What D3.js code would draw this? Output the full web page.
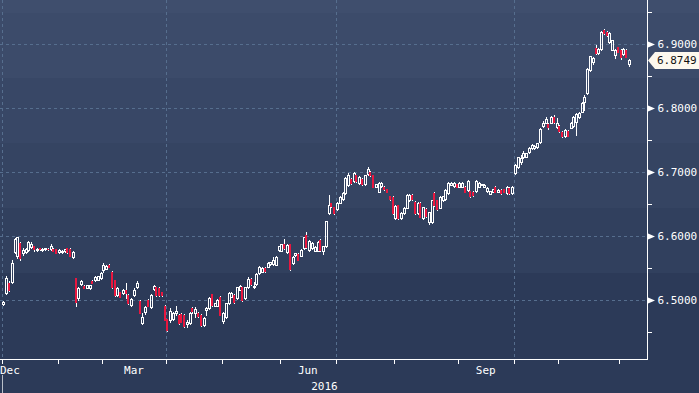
<!DOCTYPE html>
<html><head><meta charset="utf-8">
<script src="https://cdn.jsdelivr.net/npm/d3@7"></script>
<style>
html,body{margin:0;padding:0;background:#2d3b59;overflow:hidden}
svg{display:block}
text{font-family:"DejaVu Sans Mono",monospace;font-size:11px}
</style>
</head><body>
<svg id="chart" width="699" height="393"></svg>
<script>
// ---------------- data ----------------
const firstDay = "2016-01-01";
const lastDay = "2016-12-06";
const holidays = ["2016-01-01","2016-02-08","2016-02-09","2016-02-10","2016-02-11","2016-02-12",
  "2016-04-04","2016-05-02","2016-06-09","2016-06-10","2016-09-15","2016-09-16",
  "2016-10-03","2016-10-04","2016-10-05","2016-10-06","2016-10-07"];

const opens = [
6.494,6.511,6.527,6.528,6.575,6.569,6.589,6.574,6.575,6.578,6.583,6.584,6.578,6.581,6.578,6.579,6.580,6.579,6.580,6.579,
6.575,6.575,6.576,6.581,6.580,6.567,6.534,6.503,6.525,6.522,6.519,6.518,6.530,6.531,6.532,6.534,
6.547,6.549,6.555,6.544,6.531,6.508,6.512,6.511,6.516,6.508,6.492,6.508,6.520,6.499,6.464,6.481,6.500,6.489,6.517,6.520,6.519,6.512,6.491,
6.470,6.469,6.470,6.480,6.477,6.478,6.477,6.462,6.464,6.488,6.480,6.480,6.477,6.461,6.484,6.487,6.509,6.491,6.491,6.505,
6.467,6.473,6.495,6.505,6.508,6.503,6.516,6.520,6.503,6.520,6.533,6.521,6.525,6.542,6.544,6.550,6.552,6.556,6.556,6.555,6.578,
6.577,6.587,6.575,6.587,6.558,6.570,6.572,6.569,6.581,6.601,6.578,6.581,6.577,6.577,6.594,6.577,6.584,6.636,6.651,6.645,
6.642,6.652,6.658,6.667,6.680,6.689,6.686,6.695,6.683,6.689,6.681,6.697,6.700,6.695,6.677,6.669,6.678,6.677,6.673,6.662,6.661,
6.628,6.648,6.628,6.636,6.644,6.656,6.664,6.653,6.636,6.652,6.628,6.642,6.622,6.622,6.667,6.656,6.644,6.656,6.658,6.667,6.680,6.678,6.681,
6.677,6.677,6.677,6.672,6.670,6.669,6.670,6.677,6.680,6.677,6.670,6.666,6.669,6.677,6.669,6.672,6.673,6.667,6.675,6.667,
6.698,6.708,6.716,6.723,6.724,6.731,6.737,6.737,6.739,6.747,6.772,6.777,6.775,6.777,6.786,6.770,
6.772,6.763,6.756,6.764,6.769,6.772,6.778,6.786,6.794,6.809,6.823,6.859,6.872,6.894,6.886,6.892,6.922,6.919,6.903,6.891,6.883,6.895,
6.891,6.884,6.891,6.868];

const highs = [
6.498,6.538,6.529,6.563,6.597,6.599,6.591,6.581,6.581,6.592,6.590,6.585,6.581,6.582,6.581,6.582,6.581,6.587,6.581,6.580,
6.579,6.578,6.580,6.582,6.581,6.576,6.535,6.520,6.531,6.523,6.524,6.524,6.531,6.537,6.538,6.543,
6.558,6.554,6.556,6.545,6.532,6.520,6.513,6.517,6.527,6.509,6.503,6.518,6.529,6.500,6.480,6.490,6.501,6.509,6.523,6.521,6.520,6.513,6.492,
6.471,6.488,6.482,6.491,6.478,6.479,6.478,6.469,6.481,6.489,6.489,6.481,6.478,6.473,6.489,6.504,6.510,6.496,6.501,6.506,
6.481,6.496,6.512,6.512,6.509,6.521,6.523,6.521,6.521,6.536,6.534,6.528,6.542,6.553,6.551,6.551,6.559,6.560,6.567,6.568,6.585,
6.588,6.595,6.587,6.588,6.568,6.574,6.573,6.579,6.599,6.606,6.593,6.590,6.584,6.592,6.595,6.585,6.624,6.664,6.652,6.646,
6.653,6.662,6.668,6.692,6.698,6.690,6.700,6.696,6.693,6.690,6.696,6.708,6.701,6.696,6.682,6.684,6.684,6.678,6.674,6.663,6.662,
6.648,6.649,6.637,6.645,6.665,6.665,6.665,6.654,6.653,6.653,6.646,6.643,6.638,6.657,6.668,6.657,6.662,6.663,6.673,6.684,6.684,6.684,6.682,
6.684,6.684,6.678,6.687,6.671,6.670,6.687,6.684,6.682,6.681,6.676,6.671,6.674,6.678,6.673,6.673,6.674,6.678,6.676,6.678,
6.713,6.724,6.726,6.733,6.730,6.739,6.743,6.742,6.746,6.768,6.780,6.786,6.776,6.787,6.789,6.784,
6.773,6.764,6.767,6.765,6.778,6.787,6.792,6.793,6.809,6.820,6.862,6.882,6.880,6.898,6.893,6.920,6.923,6.920,6.918,6.907,6.892,6.896,
6.892,6.893,6.892,6.877];

const lows = [
6.492,6.509,6.514,6.527,6.573,6.566,6.562,6.571,6.574,6.577,6.582,6.577,6.577,6.578,6.577,6.578,6.578,6.578,6.576,6.573,
6.574,6.574,6.575,6.574,6.568,6.566,6.491,6.500,6.523,6.518,6.518,6.517,6.526,6.530,6.531,6.533,
6.544,6.548,6.551,6.519,6.507,6.507,6.504,6.510,6.503,6.494,6.491,6.506,6.518,6.479,6.462,6.478,6.490,6.488,6.516,6.507,6.507,6.507,6.468,
6.452,6.466,6.469,6.477,6.463,6.465,6.458,6.458,6.463,6.480,6.474,6.474,6.460,6.460,6.477,6.486,6.491,6.490,6.490,6.476,
6.464,6.472,6.494,6.504,6.496,6.502,6.515,6.499,6.502,6.519,6.524,6.519,6.524,6.541,6.543,6.544,6.551,6.555,6.555,6.554,6.577,
6.576,6.580,6.574,6.547,6.557,6.569,6.562,6.568,6.580,6.582,6.577,6.580,6.576,6.576,6.577,6.572,6.583,6.635,6.645,6.634,
6.641,6.651,6.657,6.666,6.678,6.682,6.685,6.685,6.682,6.680,6.680,6.696,6.694,6.676,6.676,6.668,6.677,6.672,6.668,6.657,6.635,
6.627,6.627,6.627,6.635,6.643,6.655,6.657,6.635,6.635,6.629,6.627,6.630,6.619,6.621,6.647,6.641,6.643,6.655,6.657,6.666,6.679,6.677,6.676,
6.676,6.676,6.668,6.671,6.661,6.663,6.669,6.676,6.679,6.676,6.669,6.665,6.668,6.668,6.668,6.666,6.668,6.666,6.666,6.666,
6.697,6.707,6.713,6.722,6.723,6.730,6.736,6.736,6.738,6.746,6.770,6.776,6.767,6.776,6.777,6.769,
6.763,6.755,6.755,6.756,6.768,6.771,6.758,6.785,6.793,6.797,6.822,6.858,6.869,6.884,6.885,6.891,6.916,6.913,6.902,6.890,6.878,6.887,
6.876,6.883,6.879,6.865];

const closes = [
6.497,6.534,6.516,6.558,6.595,6.598,6.566,6.578,6.579,6.590,6.587,6.579,6.580,6.579,6.580,6.581,6.579,6.585,6.577,6.574,
6.578,6.577,6.579,6.575,6.569,6.575,6.497,6.519,6.530,6.519,6.523,6.523,6.527,6.536,6.537,6.542,
6.555,6.553,6.552,6.520,6.508,6.519,6.505,6.516,6.511,6.495,6.502,6.516,6.527,6.480,6.473,6.489,6.491,6.508,6.522,6.508,6.508,6.508,6.469,
6.453,6.483,6.480,6.483,6.464,6.466,6.460,6.465,6.480,6.483,6.486,6.475,6.461,6.472,6.487,6.503,6.492,6.495,6.500,6.477,
6.480,6.495,6.511,6.511,6.497,6.520,6.522,6.500,6.520,6.533,6.525,6.522,6.541,6.552,6.550,6.545,6.558,6.559,6.562,6.567,6.584,
6.587,6.581,6.586,6.548,6.567,6.573,6.563,6.578,6.598,6.583,6.592,6.589,6.583,6.591,6.578,6.584,6.623,6.648,6.647,6.636,
6.652,6.661,6.667,6.691,6.695,6.683,6.698,6.686,6.692,6.681,6.695,6.705,6.695,6.677,6.681,6.683,6.683,6.673,6.669,6.658,6.636,
6.647,6.628,6.636,6.644,6.664,6.664,6.658,6.636,6.652,6.630,6.645,6.631,6.637,6.656,6.648,6.642,6.661,6.662,6.672,6.683,6.683,6.683,6.677,
6.683,6.683,6.669,6.686,6.662,6.664,6.686,6.683,6.681,6.680,6.675,6.670,6.673,6.669,6.672,6.667,6.669,6.677,6.667,6.677,
6.711,6.723,6.722,6.730,6.729,6.738,6.742,6.741,6.745,6.767,6.777,6.783,6.770,6.786,6.778,6.777,
6.764,6.756,6.766,6.757,6.777,6.786,6.791,6.792,6.808,6.817,6.861,6.881,6.878,6.886,6.892,6.919,6.917,6.914,6.917,6.906,6.891,6.888,
6.880,6.892,6.880,6.8749];

const yTicks = [6.5, 6.6, 6.7, 6.8, 6.9];
const yMinorTicks = [6.45, 6.55, 6.65, 6.75, 6.85, 6.95];
const monthLabels = ["Dec", "Mar", "Jun", "Sep"];
const labelMonths = ["2015-12", "2016-03", "2016-06", "2016-09"];
const gridMonths = ["2016-01", "2016-04", "2016-07", "2016-10"];
const yearLabel = "2016";

// ---------------- layout ----------------
const W = 699, H = 393;
const plotRight = 647, plotBottom = 359;
const slots = 232;
const bandColors = ["#3f4e6d","#3c4b6a","#384766","#354462","#31405e","#2c3a58"];
const bandEdges = [0, 13, 78, 143, 208, 273, H];
const upColor = "#ffffff", downColor = "#e8173f";
const gridColor = "#566e8e";

const parse = d3.utcParse("%Y-%m-%d");
const fmtDay = d3.utcFormat("%Y-%m-%d");
const fmtMonth = d3.utcFormat("%Y-%m");
const dates = d3.utcDays(parse(firstDay), d3.utcDay.offset(parse(lastDay), 1))
  .filter(d => d.getUTCDay() % 6 !== 0 && !holidays.includes(fmtDay(d)));

const candles = dates.map((d, i) => ({i, date: d, o: opens[i], h: highs[i], l: lows[i], c: closes[i]}));

const x = d3.scaleLinear().domain([0, slots]).range([2, plotRight]);
const y = d3.scaleLinear().domain([6.40781, 6.96875]).range([plotBottom, 0]);

const monthStart = new Map();
dates.forEach((d, i) => { const k = fmtMonth(d); if (!monthStart.has(k)) monthStart.set(k, i); });
const monthKeys = Array.from(monthStart.keys());
const monthEnd = new Map();
monthKeys.forEach((k, j) => monthEnd.set(k, j + 1 < monthKeys.length ? monthStart.get(monthKeys[j + 1]) : dates.length));

const svg = d3.select("#chart");

// background bands
svg.append("g").selectAll("rect").data(bandColors).join("rect")
  .attr("x", 0).attr("width", W)
  .attr("y", (c, k) => bandEdges[k]).attr("height", (c, k) => bandEdges[k + 1] - bandEdges[k])
  .attr("fill", c => c);

// grid
const grid = svg.append("g").attr("stroke", gridColor).attr("stroke-dasharray", "3,3").attr("shape-rendering", "crispEdges");
grid.selectAll("line.h").data(yTicks).join("line").attr("class", "h")
  .attr("x1", 0).attr("x2", plotRight)
  .attr("y1", d => Math.round(y(d)) + 0.5).attr("y2", d => Math.round(y(d)) + 0.5);
grid.selectAll("line.v").data(gridMonths).join("line").attr("class", "v")
  .attr("x1", m => Math.round(x(monthStart.get(m))) + 0.5).attr("x2", m => Math.round(x(monthStart.get(m))) + 0.5)
  .attr("y1", 0).attr("y2", plotBottom);

// candles
const cg = svg.append("g").attr("shape-rendering", "crispEdges");
const cs = cg.selectAll("g").data(candles).join("g");
cs.each(function(d) {
  const g = d3.select(this);
  const cx = Math.round(x(d.i + 0.5));
  const yt = Math.round(y(Math.max(d.o, d.c)));
  const yb = Math.round(y(Math.min(d.o, d.c)));
  const yh = Math.round(y(d.h));
  const yl = Math.round(y(d.l));
  if (d.c >= d.o) {
    if (yt > yh) g.append("rect").attr("x", cx).attr("y", yh).attr("width", 1).attr("height", yt - yh).attr("fill", upColor);
    if (yl > yb) g.append("rect").attr("x", cx).attr("y", yb + 1).attr("width", 1).attr("height", yl - yb).attr("fill", upColor);
    g.append("rect").attr("x", cx - 0.5).attr("y", yt + 0.5).attr("width", 2).attr("height", Math.max(1, yb - yt))
      .attr("fill", "none").attr("stroke", upColor).attr("stroke-width", 1);
  } else {
    g.append("rect").attr("x", cx).attr("y", yh).attr("width", 1).attr("height", Math.max(1, yl - yh + 1)).attr("fill", upColor);
    g.append("rect").attr("x", cx - 1).attr("y", yt).attr("width", 2).attr("height", Math.max(1, yb - yt + 1)).attr("fill", downColor);
  }
});

// right axis
const yAxis = d3.axisRight(y).tickValues(yTicks).tickSize(0).tickSizeOuter(0).tickPadding(10).tickFormat(d3.format(".4f"));
const ya = svg.append("g").attr("transform", `translate(${plotRight + 0.5},0)`).call(yAxis);
ya.select(".domain").attr("stroke", "#fff").attr("d", `M0,0V${plotBottom + 0.5}`).attr("shape-rendering", "crispEdges");
ya.selectAll("text").attr("fill", "#fff").attr("font-family", "DejaVu Sans Mono").attr("font-size", 11);
ya.selectAll(".tick").append("path").attr("d", "M0.5,-3L0.5,3L7.5,0Z").attr("fill", "#fff");
const yMinor = d3.axisRight(y).tickValues(yMinorTicks).tickSize(4).tickSizeOuter(0).tickFormat("");
const ym = svg.append("g").attr("transform", `translate(${plotRight + 0.5},0)`).call(yMinor).attr("shape-rendering", "crispEdges");
ym.select(".domain").remove();
ym.selectAll("line").attr("stroke", "#fff");

// bottom axis
const xAxis = d3.axisBottom(x).tickValues(monthKeys.map(k => monthStart.get(k))).tickSize(4).tickSizeOuter(0).tickFormat("");
const xa = svg.append("g").attr("transform", `translate(0,${plotBottom + 0.5})`).call(xAxis).attr("shape-rendering", "crispEdges");
xa.select(".domain").attr("stroke", "#fff").attr("d", `M0,0H${plotRight + 1}`);
xa.selectAll(".tick line").attr("stroke", "#fff");
xa.selectAll(".tick").attr("transform", d => `translate(${Math.round(x(d)) + 0.5},0)`);

// month labels
svg.append("g").selectAll("text").data(monthLabels).join("text")
  .attr("fill", "#fff")
  .attr("y", 374)
  .each(function(t, k) {
    const m = labelMonths[k];
    const el = d3.select(this).text(t);
    if (monthStart.has(m)) {
      el.attr("x", (x(monthStart.get(m)) + x(monthEnd.get(m))) / 2).attr("text-anchor", "middle");
    } else {
      el.attr("x", 0).attr("text-anchor", "start");
    }
  });
svg.append("text").attr("x", (x(0) + x(slots)) / 2).attr("y", 390).attr("text-anchor", "middle").attr("fill", "#fff").text(yearLabel);
svg.append("line").attr("x1", Math.round(x(0)) + 0.5).attr("x2", Math.round(x(0)) + 0.5).attr("y1", 375).attr("y2", H)
  .attr("stroke", "#b9bfc9").attr("shape-rendering", "crispEdges");

// last price label
const last = closes[closes.length - 1];
const ly = Math.round(y(last)) + 0.5;
svg.append("path")
  .attr("d", `M${plotRight + 1},${ly}L${plotRight + 8},${ly - 8.5}H${W}V${ly + 8.5}H${plotRight + 8}Z`)
  .attr("fill", "#fdf8ee");
svg.append("text").attr("x", plotRight + 10).attr("y", ly).attr("dy", "0.35em").attr("fill", "#111")
  .attr("font-size", 12).text(d3.format(".4f")(last));
</script>
</body></html>
